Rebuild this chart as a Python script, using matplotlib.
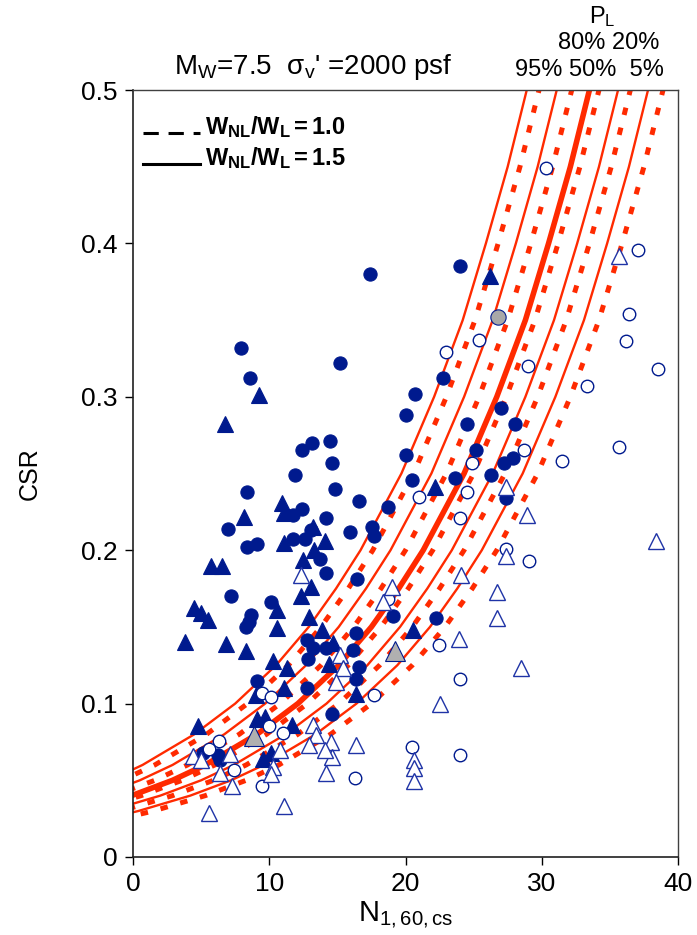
import numpy as np
import matplotlib
matplotlib.use("Agg")
import matplotlib.pyplot as plt
from matplotlib.lines import Line2D

plt.rcParams['font.family'] = ['Liberation Sans', 'DejaVu Sans']
plt.rcParams['mathtext.fontset'] = 'custom'
plt.rcParams['mathtext.rm'] = 'Liberation Sans'
plt.rcParams['mathtext.it'] = 'Liberation Sans:italic'
plt.rcParams['mathtext.bf'] = 'Liberation Sans:bold'

csr_levels = [0.025, 0.03, 0.04, 0.05, 0.06, 0.08, 0.10, 0.125, 0.15, 0.175,
              0.2, 0.25, 0.3, 0.35, 0.4, 0.45, 0.5]

# W_NL/W_L = 1.5 (solid), N1,60,cs at each CSR level
solid_p95 = [-10.9, -8.5, -4.7, -1.7, 0.7, 4.5, 7.5, 10.5, 12.9, 14.9, 16.7, 19.7, 22.1, 24.2, 25.9, 27.5, 28.9]
solid_p80 = [-8.7, -6.3, -2.5, 0.5, 2.9, 6.7, 9.7, 12.7, 15.1, 17.1, 18.9, 21.9, 24.3, 26.4, 28.1, 29.7, 31.1]
solid_p50 = [-6.3, -3.9, -0.1, 2.9, 5.3, 9.1, 12.1, 15.1, 17.5, 19.5, 21.3, 24.3, 26.7, 28.8, 30.5, 32.1, 33.5]
solid_p20 = [-4.2, -1.8, 2.0, 5.0, 7.4, 11.2, 14.2, 17.2, 19.6, 21.6, 23.4, 26.4, 28.8, 30.9, 32.6, 34.2, 35.6]
solid_p5 = [-2.0, 0.4, 4.2, 7.2, 9.6, 13.4, 16.4, 19.4, 21.8, 23.8, 25.6, 28.6, 31.0, 33.1, 34.8, 36.4, 37.8]

# W_NL/W_L = 1.0 (dashed)
dash_p95 = [-10.0, -7.6, -3.8, -0.8, 1.6, 5.4, 8.4, 11.4, 13.8, 15.8, 17.6, 20.6, 23.0, 25.1, 26.8, 28.4, 29.8]
dash_p80 = [-7.6, -5.2, -1.4, 1.6, 4.0, 7.8, 10.8, 13.8, 16.2, 18.2, 20.0, 23.0, 25.4, 27.5, 29.2, 30.8, 32.2]
dash_p50 = [-5.6, -3.2, 0.6, 3.6, 6.0, 9.8, 12.8, 15.8, 18.2, 20.2, 22.0, 25.0, 27.4, 29.5, 31.2, 32.8, 34.2]
dash_p20 = [-3.3, -0.9, 2.9, 5.9, 8.3, 12.1, 15.1, 18.1, 20.5, 22.5, 24.3, 27.3, 29.7, 31.8, 33.5, 35.1, 36.5]
dash_p5 = [-0.9, 1.5, 5.3, 8.3, 10.7, 14.5, 17.5, 20.5, 22.9, 24.9, 26.7, 29.7, 32.1, 34.2, 35.9, 37.5, 38.9]

# case histories (N1,60,cs, CSR)
filled_circles = [
    (7.9, 0.332), (8.6, 0.312), (17.4, 0.380), (24.0, 0.385), (15.2, 0.322), (22.75, 0.312),
    (20.7, 0.302), (20.0, 0.288), (27.0, 0.293), (24.5, 0.282), (28.0, 0.282), (14.45, 0.271),
    (20.0, 0.262), (14.6, 0.257), (14.8, 0.240), (25.2, 0.265), (27.2, 0.257), (27.9, 0.260),
    (20.5, 0.246), (23.65, 0.247), (26.25, 0.249), (27.35, 0.234), (16.6, 0.232), (18.7, 0.228),
    (15.95, 0.212), (17.56, 0.215), (17.67, 0.209), (16.44, 0.181), (19.1, 0.157), (22.26, 0.156),
    (16.34, 0.146), (16.15, 0.135), (16.6, 0.124), (16.34, 0.116), (14.6, 0.093),
    (13.16, 0.270), (12.43, 0.265), (11.9, 0.249), (8.4, 0.238), (12.43, 0.227), (11.74, 0.223),
    (14.19, 0.221), (7.0, 0.2135), (13.1, 0.213), (11.74, 0.207), (12.6, 0.207), (8.39, 0.202),
    (9.12, 0.204), (13.7, 0.194), (14.2, 0.185), (7.17, 0.170), (10.15, 0.166), (8.68, 0.158),
    (8.5, 0.153), (8.3, 0.150), (12.8, 0.1415), (13.2, 0.136), (14.14, 0.136), (12.84, 0.129),
    (9.12, 0.115), (12.77, 0.110), (5.14, 0.0676), (6.24, 0.0665), (6.36, 0.063),
]
filled_triangles = [
    (26.2, 0.379), (22.2, 0.241), (9.22, 0.301), (6.78, 0.282), (10.96, 0.2305), (11.1, 0.224),
    (8.15, 0.2215), (13.2, 0.215), (11.1, 0.2045), (14.1, 0.206), (13.3, 0.200), (12.5, 0.1936),
    (5.7, 0.190), (6.55, 0.1895), (13.1, 0.176), (12.35, 0.170), (10.6, 0.161), (4.45, 0.162),
    (5.0, 0.159), (5.5, 0.1545), (12.9, 0.1566), (10.6, 0.149), (3.8, 0.140), (6.8, 0.1386),
    (8.3, 0.134), (13.9, 0.148), (14.7, 0.1395), (14.4, 0.126), (10.3, 0.128), (11.3, 0.123),
    (11.1, 0.110), (9.05, 0.1056), (9.1, 0.090), (9.67, 0.0914), (11.7, 0.086), (4.8, 0.0856),
    (9.54, 0.0636), (10.1, 0.068), (20.55, 0.148), (16.4, 0.106),
]
open_circles = [
    (30.3, 0.449), (25.4, 0.337), (22.95, 0.329), (29.0, 0.320), (28.7, 0.265), (24.9, 0.257),
    (21.0, 0.235), (24.5, 0.238), (24.0, 0.221), (27.35, 0.201), (29.1, 0.193), (18.7, 0.168),
    (22.46, 0.138), (17.7, 0.1056), (24.0, 0.116), (20.5, 0.0714), (24.0, 0.0665), (16.3, 0.0513),
    (37.1, 0.396), (36.4, 0.354), (36.2, 0.3366), (38.55, 0.318), (33.3, 0.307), (35.7, 0.267),
    (31.5, 0.258), (9.5, 0.107), (10.15, 0.104), (9.98, 0.0856), (11.0, 0.081), (6.3, 0.0758),
    (5.6, 0.0707), (7.39, 0.057), (9.5, 0.046),
]
open_triangles = [
    (27.4, 0.241), (28.9, 0.223), (27.4, 0.196), (24.1, 0.184), (26.7, 0.173), (19.0, 0.176),
    (18.35, 0.166), (26.7, 0.156), (23.9, 0.142), (28.5, 0.123), (22.5, 0.0997), (16.4, 0.073),
    (20.6, 0.063), (20.6, 0.058), (20.6, 0.0495), (14.5, 0.075), (14.6, 0.065), (15.2, 0.132),
    (15.4, 0.123), (14.9, 0.114), (35.67, 0.392), (38.4, 0.206), (12.35, 0.184), (13.2, 0.086),
    (13.4, 0.0795), (14.1, 0.0697), (14.14, 0.0545), (12.9, 0.073), (4.4, 0.0658), (5.0, 0.063),
    (7.14, 0.067), (6.4, 0.0545), (7.3, 0.0464), (10.8, 0.070), (10.3, 0.0588), (10.1, 0.0538),
    (11.1, 0.0334), (5.58, 0.029),
]
gray_triangles = [(8.86, 0.079), (19.2, 0.134)]
gray_circles = [(26.8, 0.352)]

red = '#ff2a00'
navy = '#001a8e'

fig = plt.figure(figsize=(6.97, 9.35), dpi=100)
ax = fig.add_axes([133 / 697, 78 / 935, 545 / 697, 767 / 935])

for n in [solid_p95, solid_p80, solid_p20, solid_p5]:
    ax.plot(n, csr_levels, color=red, lw=1.7, zorder=2)
ax.plot(solid_p50, csr_levels, color=red, lw=4.0, zorder=2)
for n in [dash_p95, dash_p80, dash_p50, dash_p20, dash_p5]:
    ax.plot(n, csr_levels, color=red, lw=3.6, dashes=(1.5, 2.6),
            dash_capstyle='butt', zorder=2)


def pts(lst):
    a = np.array(lst)
    return a[:, 0], a[:, 1]


x, y = pts(filled_circles)
ax.plot(x, y, 'o', ms=9.5, mfc=navy, mec=navy, mew=0.8, ls='none', zorder=3)
x, y = pts(filled_triangles)
ax.plot(x, y, '^', ms=11, mfc=navy, mec=navy, mew=0.8, ls='none', zorder=3)
x, y = pts(open_circles)
ax.plot(x, y, 'o', ms=9, mfc='white', mec=navy, mew=1.0, ls='none', zorder=4)
x, y = pts(open_triangles)
ax.plot(x, y, '^', ms=11, mfc='white', mec='#1f33a6', mew=1.0, ls='none', zorder=4)
x, y = pts(gray_triangles)
ax.plot(x, y, '^', ms=14, mfc='#b0b0b0', mec=navy, mew=0.8, ls='none', zorder=5)
x, y = pts(gray_circles)
ax.plot(x, y, 'o', ms=11, mfc='#a8a8a8', mec=navy, mew=0.8, ls='none', zorder=5)

ax.set_xlim(0, 40)
ax.set_ylim(0, 0.5)
ax.set_xticks([0, 10, 20, 30, 40])
ax.set_yticks([0, 0.1, 0.2, 0.3, 0.4, 0.5])
ax.set_yticklabels(['0', '0.1', '0.2', '0.3', '0.4', '0.5'])
ax.tick_params(direction='out', length=6, width=1, labelsize=19, pad=5)
for s in ['left', 'bottom']:
    ax.spines[s].set_color('#202020')
    ax.spines[s].set_linewidth(1.2)
for s in ['top', 'right']:
    ax.spines[s].set_color('#404040')
    ax.spines[s].set_linewidth(1.0)

ax.set_xlabel(r'N$_\mathrm{1,60,cs}$', fontsize=21, labelpad=3)
ax.set_ylabel('CSR', fontsize=18, labelpad=28)

# annotations
fig.text(313 / 697, 1 - 67 / 935, "M$_\\mathrm{W}$=7.5  σ$_\\mathrm{v}$' =2000 psf",
         ha='center', va='center', fontsize=20)
fig.text(602 / 697, 1 - 17 / 935, r'P$_\mathrm{L}$', ha='center', va='center', fontsize=17)
fig.text(609 / 697, 1 - 43 / 935, '80% 20%', ha='center', va='center', fontsize=17)
fig.text(589 / 697, 1 - 70 / 935, '95% 50%  5%', ha='center', va='center', fontsize=17)

# legend key strokes
fig.add_artist(Line2D([143 / 697, 200 / 697], [1 - 133 / 935, 1 - 133 / 935],
                      color='black', lw=2.2, dashes=(5, 3.2), dash_capstyle='butt'))
fig.add_artist(Line2D([143 / 697, 200 / 697], [1 - 164 / 935, 1 - 164 / 935],
                      color='black', lw=2.2))
fig.text(205 / 697, 1 - 127 / 935, r'$\mathbf{W_{NL}/W_{L}=1.0}$', ha='left', va='center',
         fontsize=17)
fig.text(205 / 697, 1 - 158 / 935, r'$\mathbf{W_{NL}/W_{L}=1.5}$', ha='left', va='center',
         fontsize=17)

fig.savefig('out.png', dpi=100)
